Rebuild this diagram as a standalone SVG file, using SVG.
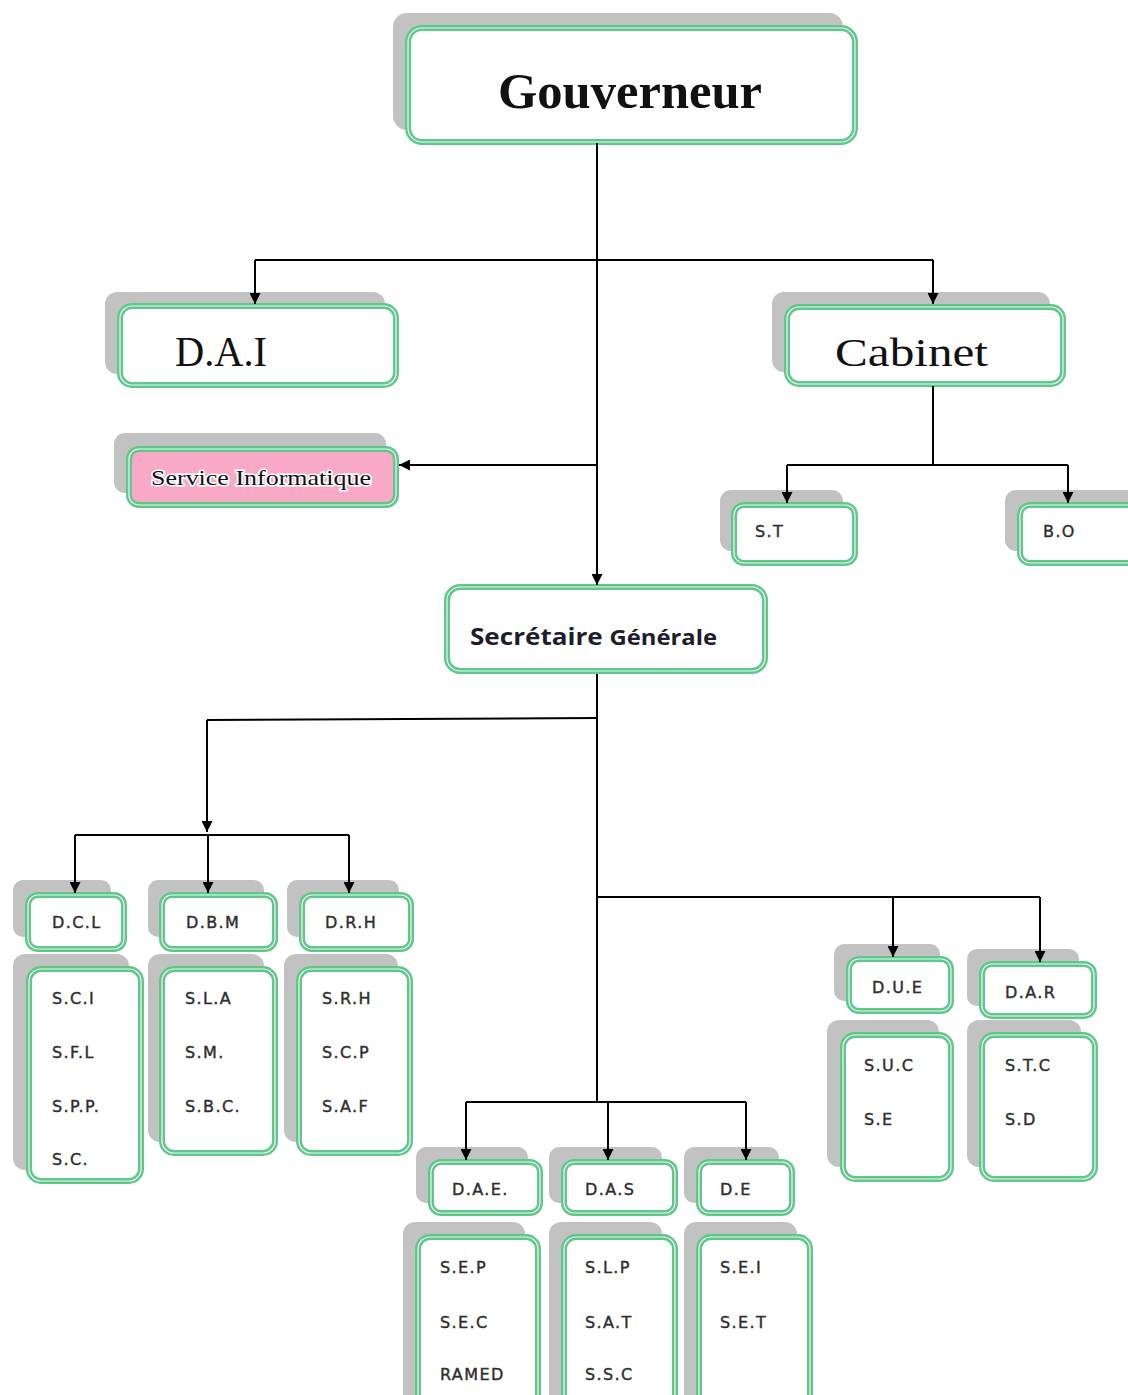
<svg xmlns="http://www.w3.org/2000/svg" width="1128" height="1395" viewBox="0 0 1128 1395">
  <defs>
    <marker id="ah" markerWidth="11" markerHeight="11" refX="11" refY="5.5" orient="auto" markerUnits="userSpaceOnUse">
      <path d="M0,0 L11,5.5 L0,11 z" fill="#000"/>
    </marker>
    <style>
      .sh { fill: #c2c2c2; }
      .bx { fill: #fff; stroke: #5fc78c; stroke-width: 6; }
      .pk { fill: #f8a9c5; stroke: #5fc78c; stroke-width: 6; }
      .bi { fill: none; stroke: #e9f8ef; stroke-width: 1.2; }
      .ln { fill: none; stroke: #000; stroke-width: 2; }
      .ar { marker-end: url(#ah); }
      .big { font-family: "Liberation Serif", "DejaVu Serif", serif; fill: #111; }
      .sm { font-family: "DejaVu Sans", "Liberation Sans", sans-serif; font-size: 16px; letter-spacing: 1.4px; fill: #2e2e2e; stroke: #2e2e2e; stroke-width: 0.4; }
    </style>
  </defs>
  <rect width="1128" height="1395" fill="#fff"/>

  <!-- Gouverneur -->
  <g id="gouverneur">
    <rect class="sh" x="393" y="13" width="450" height="117" rx="14"/>
    <rect class="bx" x="408" y="28" width="447" height="114" rx="14"/>
    <rect class="bi" x="408" y="28" width="447" height="114" rx="14"/>
    <text class="big" x="498" y="108" font-size="51" font-weight="bold" textLength="264" lengthAdjust="spacingAndGlyphs">Gouverneur</text>
  </g>

  <!-- D.A.I -->
  <g id="dai">
    <rect class="sh" x="105" y="292" width="280" height="82" rx="12"/>
    <rect class="bx" x="120" y="306" width="276" height="79" rx="12"/>
    <rect class="bi" x="120" y="306" width="276" height="79" rx="12"/>
    <text class="big" x="175" y="366" font-size="42" textLength="92" lengthAdjust="spacingAndGlyphs">D.A.I</text>
  </g>

  <!-- Cabinet -->
  <g id="cabinet">
    <rect class="sh" x="772" y="292" width="278" height="80" rx="12"/>
    <rect class="bx" x="787" y="307" width="276" height="77" rx="12"/>
    <rect class="bi" x="787" y="307" width="276" height="77" rx="12"/>
    <text class="big" x="835" y="366" font-size="40" textLength="153" lengthAdjust="spacingAndGlyphs">Cabinet</text>
  </g>

  <!-- Service Informatique -->
  <g id="service-informatique">
    <rect class="sh" x="114" y="433" width="272" height="60" rx="11"/>
    <rect class="pk" x="129" y="449" width="267" height="56" rx="10"/>
    <rect class="bi" x="129" y="449" width="267" height="56" rx="10"/>
    <text class="big" x="151" y="485" font-size="22" fill="#3a3a3a" stroke="#fff" stroke-width="3" paint-order="stroke" textLength="220" lengthAdjust="spacingAndGlyphs">Service Informatique</text>
  </g>

  <!-- S.T and B.O -->
  <g id="st">
    <rect class="sh" x="720" y="490" width="123" height="61" rx="11"/>
    <rect class="bx" x="734" y="505" width="121" height="58" rx="10"/>
    <rect class="bi" x="734" y="505" width="121" height="58" rx="10"/>
    <text class="sm" x="755" y="537">S.T</text>
  </g>
  <g id="bo">
    <rect class="sh" x="1005" y="490" width="140" height="61" rx="11"/>
    <rect class="bx" x="1020" y="505" width="130" height="58" rx="10"/>
    <rect class="bi" x="1020" y="505" width="130" height="58" rx="10"/>
    <text class="sm" x="1043" y="537">B.O</text>
  </g>

  <!-- Secrétaire Générale -->
  <g id="secretaire-generale">
    <rect class="bx" x="447" y="587" width="318" height="84" rx="13"/>
    <rect class="bi" x="447" y="587" width="318" height="84" rx="13"/>
    <text x="470" y="645" font-family="'Open Sans', 'DejaVu Sans', sans-serif" font-weight="bold" fill="#1e1e2a" textLength="247" lengthAdjust="spacingAndGlyphs"><tspan font-size="23">Secrétaire </tspan><tspan font-size="21">Générale</tspan></text>
  </g>

  <!-- D.C.L -->
  <g id="dcl">
    <rect class="sh" x="13" y="880" width="98" height="57" rx="10"/>
    <rect class="bx" x="28" y="895" width="96" height="54" rx="10"/>
    <rect class="bi" x="28" y="895" width="96" height="54" rx="10"/>
    <text class="sm" x="52" y="928">D.C.L</text>
  </g>
  <g id="dcl-services">
    <rect class="sh" x="13" y="954" width="116" height="216" rx="12"/>
    <rect class="bx" x="29" y="969" width="112" height="212" rx="12"/>
    <rect class="bi" x="29" y="969" width="112" height="212" rx="12"/>
    <text class="sm" x="52" y="1004">S.C.I</text>
    <text class="sm" x="52" y="1058">S.F.L</text>
    <text class="sm" x="52" y="1112">S.P.P.</text>
    <text class="sm" x="52" y="1165">S.C.</text>
  </g>

  <!-- D.B.M -->
  <g id="dbm">
    <rect class="sh" x="148" y="880" width="116" height="57" rx="10"/>
    <rect class="bx" x="162" y="895" width="113" height="54" rx="10"/>
    <rect class="bi" x="162" y="895" width="113" height="54" rx="10"/>
    <text class="sm" x="186" y="928">D.B.M</text>
  </g>
  <g id="dbm-services">
    <rect class="sh" x="148" y="954" width="116" height="188" rx="12"/>
    <rect class="bx" x="162" y="969" width="113" height="184" rx="12"/>
    <rect class="bi" x="162" y="969" width="113" height="184" rx="12"/>
    <text class="sm" x="185" y="1004">S.L.A</text>
    <text class="sm" x="185" y="1058">S.M.</text>
    <text class="sm" x="185" y="1112">S.B.C.</text>
  </g>

  <!-- D.R.H -->
  <g id="drh">
    <rect class="sh" x="287" y="880" width="112" height="57" rx="10"/>
    <rect class="bx" x="302" y="895" width="109" height="54" rx="10"/>
    <rect class="bi" x="302" y="895" width="109" height="54" rx="10"/>
    <text class="sm" x="325" y="928">D.R.H</text>
  </g>
  <g id="drh-services">
    <rect class="sh" x="284" y="954" width="114" height="188" rx="12"/>
    <rect class="bx" x="299" y="969" width="111" height="184" rx="12"/>
    <rect class="bi" x="299" y="969" width="111" height="184" rx="12"/>
    <text class="sm" x="322" y="1004">S.R.H</text>
    <text class="sm" x="322" y="1058">S.C.P</text>
    <text class="sm" x="322" y="1112">S.A.F</text>
  </g>

  <!-- D.U.E -->
  <g id="due">
    <rect class="sh" x="834" y="944" width="106" height="57" rx="10"/>
    <rect class="bx" x="849" y="959" width="102" height="52" rx="10"/>
    <rect class="bi" x="849" y="959" width="102" height="52" rx="10"/>
    <text class="sm" x="872" y="993">D.U.E</text>
  </g>
  <g id="due-services">
    <rect class="sh" x="827" y="1020" width="112" height="147" rx="12"/>
    <rect class="bx" x="843" y="1035" width="108" height="144" rx="12"/>
    <rect class="bi" x="843" y="1035" width="108" height="144" rx="12"/>
    <text class="sm" x="864" y="1071">S.U.C</text>
    <text class="sm" x="864" y="1125">S.E</text>
  </g>

  <!-- D.A.R -->
  <g id="dar">
    <rect class="sh" x="967" y="949" width="112" height="57" rx="10"/>
    <rect class="bx" x="982" y="964" width="112" height="52" rx="10"/>
    <rect class="bi" x="982" y="964" width="112" height="52" rx="10"/>
    <text class="sm" x="1005" y="998">D.A.R</text>
  </g>
  <g id="dar-services">
    <rect class="sh" x="967" y="1020" width="114" height="147" rx="12"/>
    <rect class="bx" x="982" y="1035" width="113" height="144" rx="12"/>
    <rect class="bi" x="982" y="1035" width="113" height="144" rx="12"/>
    <text class="sm" x="1005" y="1071">S.T.C</text>
    <text class="sm" x="1005" y="1125">S.D</text>
  </g>

  <!-- D.A.E. -->
  <g id="dae">
    <rect class="sh" x="416" y="1147" width="112" height="56" rx="10"/>
    <rect class="bx" x="431" y="1162" width="109" height="51" rx="10"/>
    <rect class="bi" x="431" y="1162" width="109" height="51" rx="10"/>
    <text class="sm" x="452" y="1195">D.A.E.</text>
  </g>
  <g id="dae-services">
    <rect class="sh" x="403" y="1222" width="122" height="190" rx="12"/>
    <rect class="bx" x="418" y="1237" width="120" height="180" rx="12"/>
    <rect class="bi" x="418" y="1237" width="120" height="180" rx="12"/>
    <text class="sm" x="440" y="1273">S.E.P</text>
    <text class="sm" x="440" y="1328">S.E.C</text>
    <text class="sm" x="440" y="1380">RAMED</text>
  </g>

  <!-- D.A.S -->
  <g id="das">
    <rect class="sh" x="549" y="1147" width="113" height="56" rx="10"/>
    <rect class="bx" x="564" y="1162" width="111" height="51" rx="10"/>
    <rect class="bi" x="564" y="1162" width="111" height="51" rx="10"/>
    <text class="sm" x="585" y="1195">D.A.S</text>
  </g>
  <g id="das-services">
    <rect class="sh" x="549" y="1222" width="113" height="190" rx="12"/>
    <rect class="bx" x="564" y="1237" width="111" height="180" rx="12"/>
    <rect class="bi" x="564" y="1237" width="111" height="180" rx="12"/>
    <text class="sm" x="585" y="1273">S.L.P</text>
    <text class="sm" x="585" y="1328">S.A.T</text>
    <text class="sm" x="585" y="1380">S.S.C</text>
  </g>

  <!-- D.E -->
  <g id="de">
    <rect class="sh" x="684" y="1147" width="95" height="56" rx="10"/>
    <rect class="bx" x="699" y="1162" width="93" height="51" rx="10"/>
    <rect class="bi" x="699" y="1162" width="93" height="51" rx="10"/>
    <text class="sm" x="720" y="1195">D.E</text>
  </g>
  <g id="de-services">
    <rect class="sh" x="684" y="1222" width="113" height="190" rx="12"/>
    <rect class="bx" x="699" y="1237" width="111" height="180" rx="12"/>
    <rect class="bi" x="699" y="1237" width="111" height="180" rx="12"/>
    <text class="sm" x="720" y="1273">S.E.I</text>
    <text class="sm" x="720" y="1328">S.E.T</text>
  </g>

  <!-- connectors, drawn over the shadows so the arrowheads stay visible -->
  <g id="connectors">
    <path class="ln ar" d="M597,143 V585"/>
    <path class="ln" d="M255,260 H933"/>
    <path class="ln ar" d="M255,260 V304"/>
    <path class="ln ar" d="M933,260 V304"/>
    <path class="ln ar" d="M597,465 H399"/>
    <path class="ln" d="M933,386 V465 M787,465 H1068"/>
    <path class="ln ar" d="M787,465 V503"/>
    <path class="ln ar" d="M1068,465 V503"/>
    <path class="ln" d="M597,674 V1102"/>
    <path class="ln" d="M597,718 L207,720"/>
    <path class="ln ar" d="M207,720 V832"/>
    <path class="ln" d="M75,835 H349"/>
    <path class="ln ar" d="M75,835 V893"/>
    <path class="ln ar" d="M208,835 V893"/>
    <path class="ln ar" d="M349,835 V893"/>
    <path class="ln" d="M597,897 H1040"/>
    <path class="ln ar" d="M893,897 V957"/>
    <path class="ln ar" d="M1040,897 V962"/>
    <path class="ln" d="M466,1102 H746"/>
    <path class="ln ar" d="M466,1102 V1160"/>
    <path class="ln ar" d="M608,1102 V1160"/>
    <path class="ln ar" d="M746,1102 V1160"/>
  </g>
</svg>
